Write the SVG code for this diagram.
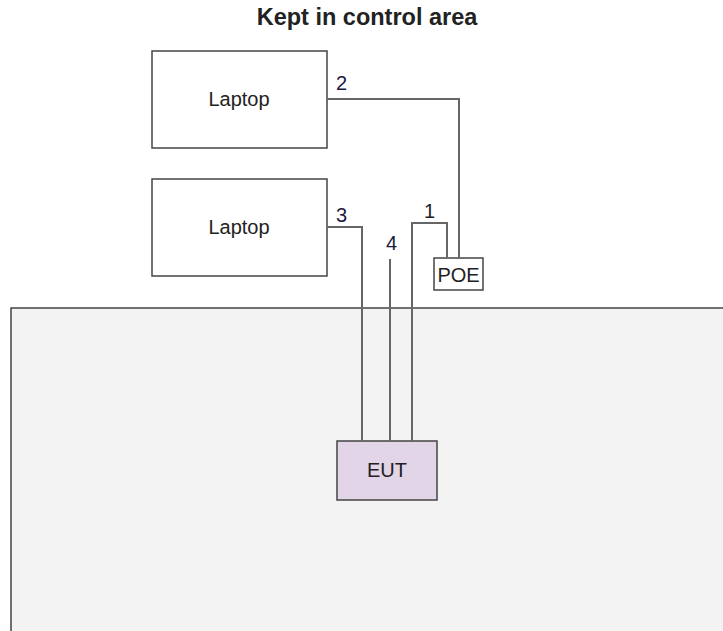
<svg xmlns="http://www.w3.org/2000/svg" width="723" height="631" viewBox="0 0 723 631">
<style>
.box{stroke:#444;stroke-width:1.5}
.wire{fill:none;stroke:#666;stroke-width:2}
text{font-family:"Liberation Sans",Arial,sans-serif;font-size:20px;fill:#222}
.lbl{fill:#1a1a40}
</style>
<rect width="723" height="631" fill="#fff"/>
<text x="367" y="25" text-anchor="middle" style="font-weight:bold;font-size:23.5px" fill="#000">Kept in control area</text>
<g id="area"><rect class="box" x="11" y="308" width="714" height="325" fill="#f3f3f3"/></g>
<g id="laptop1"><rect class="box" x="152" y="51" width="175" height="97" fill="#fff"/><text x="239" y="106" text-anchor="middle">Laptop</text></g>
<g id="laptop2"><rect class="box" x="152" y="179" width="175" height="97" fill="#fff"/><text x="239" y="234" text-anchor="middle">Laptop</text></g>
<g id="poe"><rect class="box" x="434" y="258" width="49" height="32" fill="#fff"/><text x="458.5" y="282" text-anchor="middle" fill="#000">POE</text></g>
<g id="eut"><rect class="box" x="337" y="441" width="100" height="59" fill="#e1d5e7"/><text x="387" y="477" text-anchor="middle" fill="#000">EUT</text></g>
<g id="connectors">
<path class="wire" d="M327 99H459V258"/>
<path class="wire" d="M327 227H362V441"/>
<path class="wire" d="M390 259V441"/>
<path class="wire" d="M412 441V223H447V258"/>
<text class="lbl" x="336" y="90">2</text>
<text class="lbl" x="336" y="222">3</text>
<text class="lbl" x="386" y="250">4</text>
<text x="424" y="218" fill="#8b1a1a">1</text>
</g>
</svg>
